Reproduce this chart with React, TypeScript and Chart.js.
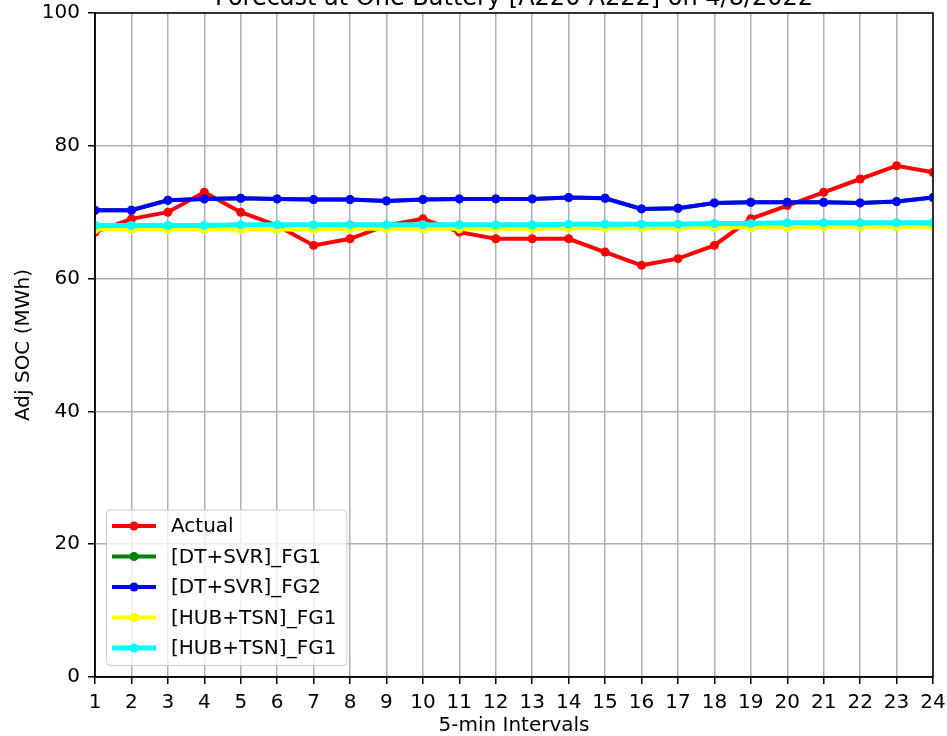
import React, { useEffect, useRef } from "react";
import { Chart, registerables } from "chart.js";

Chart.register(...registerables);

// 5-minute interval indices along the x axis
const intervals = [
  "1", "2", "3", "4", "5", "6", "7", "8", "9", "10", "11", "12",
  "13", "14", "15", "16", "17", "18", "19", "20", "21", "22", "23", "24",
];

// Adjusted state of charge (MWh) per interval
const actual = [67, 69, 70, 73, 70, 68, 65, 66, 68, 69, 67, 66, 66, 66, 64, 62, 63, 65, 69, 71, 73, 75, 77, 76];
const dtSvrFg1 = [70.3, 70.3, 71.8, 72.0, 72.1, 72.0, 71.9, 71.9, 71.7, 71.9, 72.0, 72.0, 72.0, 72.2, 72.1, 70.5, 70.6, 71.4, 71.5, 71.5, 71.5, 71.4, 71.6, 72.2];
const dtSvrFg2 = [70.3, 70.3, 71.8, 72.0, 72.1, 72.0, 71.9, 71.9, 71.7, 71.9, 72.0, 72.0, 72.0, 72.2, 72.1, 70.5, 70.6, 71.4, 71.5, 71.5, 71.5, 71.4, 71.6, 72.2];
const hubTsnFg1 = [67.4, 67.4, 67.4, 67.4, 67.4, 67.4, 67.4, 67.5, 67.5, 67.5, 67.5, 67.5, 67.5, 67.6, 67.6, 67.6, 67.6, 67.7, 67.7, 67.7, 67.8, 67.8, 67.8, 67.8];
const hubTsnFg1b = [68.0, 68.0, 68.0, 68.0, 68.1, 68.1, 68.1, 68.1, 68.1, 68.1, 68.1, 68.1, 68.1, 68.2, 68.2, 68.2, 68.2, 68.3, 68.3, 68.4, 68.4, 68.4, 68.4, 68.4];

const seriesLabels = ["Actual", "[DT+SVR]_FG1", "[DT+SVR]_FG2", "[HUB+TSN]_FG1", "[HUB+TSN]_FG1"];
const seriesData = [actual, dtSvrFg1, dtSvrFg2, hubTsnFg1, hubTsnFg1b];
const seriesColors = ["#ff0000", "#008000", "#0000ff", "#ffff00", "#00ffff"];
const seriesWidths = [4, 4, 4, 4, 5];

const chartTitle = "Forecast at One Battery [A220-A222] on 4/8/2022";
const FONT = "'DejaVu Sans', sans-serif";

// Black frame around the plotting area
const framePlugin = {
  id: "frame",
  afterDatasetsDraw(chart: any) {
    const { ctx, chartArea: a } = chart;
    ctx.save();
    ctx.strokeStyle = "#000";
    ctx.lineWidth = 1.5;
    ctx.strokeRect(a.left, a.top, a.right - a.left, a.bottom - a.top);
    ctx.restore();
  },
};

// Title placed just above the plotting area
const titlePlugin = {
  id: "topTitle",
  afterDraw(chart: any) {
    const { ctx, chartArea: a } = chart;
    ctx.save();
    ctx.font = `24px ${FONT}`;
    ctx.fillStyle = "#000";
    ctx.textAlign = "center";
    ctx.textBaseline = "alphabetic";
    ctx.fillText(chartTitle, (a.left + a.right) / 2, a.top - 8);
    ctx.restore();
  },
};

// Boxed legend in the lower-left corner of the plotting area
const legendPlugin = {
  id: "cornerLegend",
  afterDraw(chart: any) {
    const { ctx, chartArea: a } = chart;
    const datasets = chart.data.datasets;
    ctx.save();
    ctx.font = `20px ${FONT}`;
    let maxW = 0;
    datasets.forEach((d: any) => {
      maxW = Math.max(maxW, ctx.measureText(d.label).width);
    });
    const rowH = 30.5;
    const boxW = 65 + maxW + 10;
    const boxH = 16.5 + rowH * (datasets.length - 1) + 17;
    const bx = a.left + 11;
    const by = a.bottom - 12 - boxH;

    ctx.beginPath();
    ctx.roundRect(bx + 0.5, by + 0.5, boxW, boxH, 4);
    ctx.fillStyle = "rgba(255,255,255,0.8)";
    ctx.fill();
    ctx.strokeStyle = "#cccccc";
    ctx.lineWidth = 1;
    ctx.stroke();

    datasets.forEach((d: any, i: number) => {
      const cy = by + 16.5 + i * rowH;
      ctx.strokeStyle = d.borderColor;
      ctx.lineWidth = d.borderWidth;
      ctx.beginPath();
      ctx.moveTo(bx + 6, cy);
      ctx.lineTo(bx + 50, cy);
      ctx.stroke();
      ctx.fillStyle = d.borderColor;
      ctx.beginPath();
      ctx.arc(bx + 28, cy, 4.5, 0, Math.PI * 2);
      ctx.fill();
      ctx.fillStyle = "#000";
      ctx.textAlign = "left";
      ctx.textBaseline = "middle";
      ctx.fillText(d.label, bx + 65, cy + 1);
    });
    ctx.restore();
  },
};

export default function App() {
  const canvasRef = useRef<HTMLCanvasElement>(null);

  useEffect(() => {
    const canvas = canvasRef.current;
    if (!canvas) return;
    const n = seriesData.length;
    const chart = new Chart(canvas, {
      type: "line",
      data: {
        labels: intervals,
        datasets: seriesData.map((data, i) => ({
          label: seriesLabels[i],
          data,
          borderColor: seriesColors[i],
          backgroundColor: seriesColors[i],
          pointBackgroundColor: seriesColors[i],
          pointBorderColor: seriesColors[i],
          borderWidth: seriesWidths[i],
          pointRadius: 4.5,
          pointBorderWidth: 0,
          tension: 0,
          clip: 0,
          order: n - i,
        })),
      },
      options: {
        responsive: false,
        animation: false,
        devicePixelRatio: 1,
        layout: { padding: { top: 13, right: 14, bottom: 0, left: 0 } },
        plugins: {
          legend: { display: false },
          tooltip: { enabled: false },
          title: { display: false },
        },
        scales: {
          x: {
            type: "category",
            offset: false,
            grid: { color: "#b0b0b0", lineWidth: 1.5, tickColor: "#000", tickLength: 7, offset: false },
            border: { color: "#000", width: 1.5 },
            ticks: {
              color: "#000",
              font: { family: FONT, size: 20 },
              padding: 7,
              maxRotation: 0,
              autoSkip: false,
            },
            title: {
              display: true,
              text: "5-min Intervals",
              color: "#000",
              font: { family: FONT, size: 20 },
              padding: { top: 0, bottom: -2 },
            },
            afterFit: (s: any) => {
              s.height = 59;
              s.paddingLeft = 0;
              s.paddingRight = 0;
            },
          },
          y: {
            min: 0,
            max: 100,
            grid: { color: "#b0b0b0", lineWidth: 1.5, tickColor: "#000", tickLength: 7 },
            border: { color: "#000", width: 1.5 },
            ticks: {
              stepSize: 20,
              color: "#000",
              font: { family: FONT, size: 20 },
              padding: 8,
            },
            title: {
              display: true,
              text: "Adj SOC (MWh)",
              color: "#000",
              font: { family: FONT, size: 20 },
              padding: { top: 12, bottom: 0 },
            },
            afterFit: (s: any) => {
              s.width = 95;
              s.paddingTop = 0;
              s.paddingBottom = 0;
            },
          },
        },
      },
      plugins: [framePlugin, titlePlugin, legendPlugin],
    });
    return () => chart.destroy();
  }, []);

  return (
    <div style={{ position: "absolute", left: 0, top: 0, width: 947, height: 736, background: "#fff" }}>
      <canvas ref={canvasRef} width={947} height={736} style={{ display: "block", width: 947, height: 736 }} />
    </div>
  );
}
